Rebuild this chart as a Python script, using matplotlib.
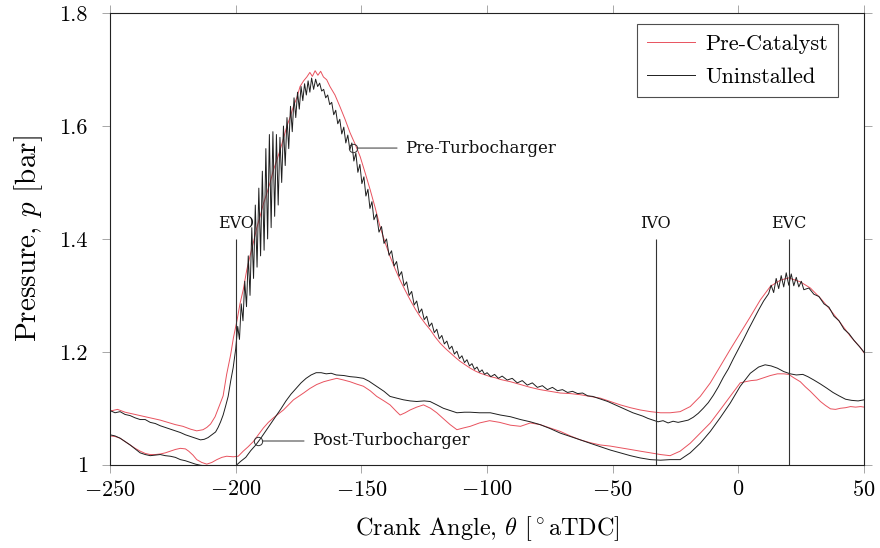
import matplotlib
matplotlib.use("Agg")
import matplotlib.pyplot as plt

plt.rcParams["font.family"] = "serif"
plt.rcParams["font.serif"] = ["cmr10", "DejaVu Serif"]
plt.rcParams["mathtext.fontset"] = "cm"
plt.rcParams["axes.formatter.use_mathtext"] = True
plt.rcParams["axes.unicode_minus"] = True

# pre-turbocharger, pre-catalyst (red)
preRedTheta = [-250, -247, -244, -241, -238, -234, -230, -227, -224, -221, -218, -215.5, -213, -211.5, -210,
               -208.2, -206.2, -205, -203.6, -202, -200.9, -199.5, -198.3, -197, -195.6, -194.3, -193, -191.6,
               -190.3, -189, -187.6, -186.3, -185, -183.6, -182.3, -181, -179.7, -178.4, -177.1, -175.7, -174.4,
               -173, -171.7, -170.5, -169.5, -168.4, -167.3, -166.2, -165.1, -163.8, -162.5, -160.5, -158.5,
               -156.5, -154.5, -152.5, -150.5, -148.5, -146.5, -144.5, -142.6, -140.6, -138.6, -136.6, -134.6,
               -132.6, -130.6, -128.6, -126.6, -124.6, -122.6, -120.6, -118.6, -116.6, -114.6, -112.6, -110.7,
               -108.7, -106.7, -104.7, -102.7, -100.7, -98.7, -96.7, -94.7, -90.7, -86.7, -82.8, -78.9, -74.9,
               -70.9, -66.9, -62.9, -59, -55, -51, -47, -43, -39.1, -35, -31, -27.2, -23.2, -19.2, -15.2, -11.2,
               -7.3, -3.3, 0.7, 4.7, 8.7, 12.7, 16.7, 20, 24.6, 28.6, 32.6, 36.6, 40.6, 44.6, 48.6, 50]
preRedP = [1.095, 1.098, 1.093, 1.090, 1.087, 1.083, 1.079, 1.075, 1.071, 1.068, 1.063, 1.060, 1.062, 1.066, 1.072,
           1.085, 1.108, 1.122, 1.160, 1.195, 1.225, 1.255, 1.285, 1.310, 1.345, 1.370, 1.393, 1.420,
           1.440, 1.462, 1.481, 1.500, 1.522, 1.540, 1.558, 1.578, 1.599, 1.615, 1.634, 1.650, 1.670,
           1.680, 1.687, 1.695, 1.688, 1.698, 1.690, 1.697, 1.687, 1.682, 1.670, 1.655, 1.634,
           1.612, 1.588, 1.568, 1.546, 1.517, 1.487, 1.455, 1.422, 1.394, 1.369, 1.347, 1.327,
           1.309, 1.292, 1.276, 1.262, 1.250, 1.239, 1.226, 1.215, 1.206, 1.198, 1.190, 1.183,
           1.177, 1.171, 1.166, 1.162, 1.159, 1.156, 1.154, 1.151, 1.147, 1.142, 1.137, 1.133, 1.130,
           1.127, 1.126, 1.124, 1.121, 1.118, 1.112, 1.106, 1.101, 1.097, 1.094, 1.092, 1.092, 1.094, 1.103, 1.121, 1.145,
           1.174, 1.204, 1.233, 1.262, 1.292, 1.316, 1.327, 1.331, 1.324, 1.313, 1.295, 1.274, 1.251, 1.227, 1.207, 1.198]

# pre-turbocharger, uninstalled (black)
preBlackTheta = [-250, -248, -246, -244, -242, -240, -238, -236, -234, -232, -230, -228, -226, -224, -222, -220,
                 -218, -216, -214, -212.5, -211, -209.5, -208, -207, -206, -205, -204, -203, -202, -201, -200,
                 -199.2, -198.5, -197.8, -197.1, -196.4, -195.7, -195, -194.3, -193.6, -192.9, -192.2, -191.5,
                 -190.8, -190.1, -189.4, -188.7, -188, -187.3, -186.6, -185.9, -185.2, -184.5, -183.8, -183.1,
                 -182.4, -181.7, -181, -180.3, -179.6, -178.9, -178.2, -177.5, -176.8, -176.1, -175.4, -174.7,
                 -174, -173.3, -172.6, -171.9, -171.2, -170.5, -169.8, -169, -168.2, -167.4, -166.6, -165.8,
                 -165, -164.2, -163.4, -162.6, -161.8, -161, -160.2, -159.4, -158.6, -157.8, -157, -156.2,
                 -155.4, -154.6, -153.8, -153, -152.2, -151.4, -150.6, -149.8, -149, -148.2, -147.4, -146.6,
                 -145.8, -145, -144, -143, -142, -141, -140, -139, -138, -137, -136, -135, -134, -133, -132,
                 -131, -130, -129, -128, -127, -126, -125, -124, -123, -122, -121, -120, -119, -118, -117, -116,
                 -115, -114, -113, -112, -111, -110, -109, -108, -107, -106, -105, -104, -103, -102, -101, -100,
                 -98.5, -97, -95.5, -94, -92, -90, -88, -86, -84, -82, -80, -78, -76, -74, -72, -70, -68, -66,
                 -64, -62, -60, -58, -56, -54, -52, -50, -48, -46, -44, -42, -40, -38, -36, -34, -32, -30, -28,
                 -26, -24, -22, -20, -18, -16, -14, -12, -10, -8, -6, -4, -2, 0, 2, 4, 6, 8, 10, 12, 13, 14, 15,
                 16, 17, 18, 19, 20, 21, 22, 23, 24, 25, 26, 28, 30, 32, 34, 36, 38, 40, 42, 44, 46, 48, 50]
preBlackP = [1.096, 1.092, 1.094, 1.089, 1.087, 1.083, 1.080, 1.080, 1.075, 1.073, 1.069, 1.066, 1.063, 1.060, 1.057, 1.053,
             1.050, 1.047, 1.044, 1.045, 1.048, 1.053, 1.058, 1.066, 1.076, 1.088, 1.104, 1.121, 1.148, 1.172, 1.205,
             1.245, 1.222, 1.285, 1.255, 1.325, 1.280, 1.370, 1.300, 1.420, 1.330, 1.460, 1.350,
             1.490, 1.370, 1.520, 1.380, 1.560, 1.400, 1.585, 1.420, 1.590, 1.440, 1.585, 1.460,
             1.580, 1.500, 1.600, 1.530, 1.615, 1.560, 1.635, 1.590, 1.650, 1.615, 1.660, 1.630,
             1.670, 1.645, 1.675, 1.655, 1.680, 1.660, 1.685, 1.665, 1.683, 1.670, 1.676, 1.662,
             1.665, 1.650, 1.655, 1.638, 1.642, 1.620, 1.628, 1.604, 1.612, 1.586, 1.598, 1.570,
             1.584, 1.558, 1.570, 1.538, 1.552, 1.518, 1.532, 1.498, 1.510, 1.476, 1.488, 1.454,
             1.466, 1.434, 1.444, 1.412, 1.422, 1.392, 1.400, 1.371, 1.379, 1.352, 1.360, 1.334, 1.342, 1.317, 1.324,
             1.300, 1.307, 1.283, 1.290, 1.269, 1.276, 1.257, 1.263, 1.245, 1.251, 1.234, 1.240, 1.223, 1.229, 1.214, 1.219,
             1.205, 1.210, 1.196, 1.201, 1.188, 1.193, 1.181, 1.186, 1.175, 1.179, 1.169, 1.173, 1.164, 1.168, 1.160, 1.163,
             1.156, 1.160, 1.153, 1.157, 1.150, 1.153, 1.145, 1.149, 1.141, 1.145, 1.137, 1.140, 1.133, 1.137, 1.131, 1.133, 1.128, 1.130,
             1.126, 1.127, 1.122, 1.121, 1.118, 1.115, 1.112, 1.108, 1.104, 1.100, 1.096, 1.092, 1.089, 1.086, 1.082, 1.079, 1.076, 1.078, 1.074,
             1.077, 1.075, 1.077, 1.079, 1.084, 1.091, 1.100, 1.110, 1.123, 1.138, 1.155, 1.170, 1.188, 1.205, 1.222, 1.240, 1.257, 1.274, 1.290, 1.303, 1.318, 1.305, 1.330,
             1.312, 1.335, 1.315, 1.340, 1.318, 1.338, 1.317, 1.332, 1.315, 1.325, 1.310, 1.313, 1.302, 1.298, 1.285, 1.279, 1.263, 1.255, 1.240, 1.232, 1.220, 1.210, 1.199]

# post-turbocharger, pre-catalyst (red)
postRedTheta = [-250, -248, -246, -244, -242, -240, -238, -236, -234, -232, -230, -228, -226, -224, -222, -220,
                -218.7, -217, -215.5, -213.5, -211.5, -209.5, -207.5, -205.5, -203.6, -201, -199, -197, -195, -193,
                -191, -189, -187, -185, -183, -181, -179, -177, -175, -173, -170.5, -167.8, -165, -162.5, -159.8,
                -157, -154.5, -152, -149.2, -146.5, -143.9, -141, -138.6, -136, -134.6, -132.6, -130.6, -128,
                -125.3, -122.5, -120, -117.5, -114.7, -112, -109.5, -106.7, -103, -99, -95, -90.7, -86.7, -82.8,
                -78.9, -74.9, -70.9, -66.9, -62.9, -59, -55, -51, -47, -43, -39.1, -35, -31, -27.2, -23.2, -19.2,
                -15.2, -11.2, -7.3, -3.3, 0.7, 2.7, 5, 7.3, 10, 12.7, 15.5, 18, 20, 22, 24.6, 26.6, 28.6, 30.6,
                32.6, 34.6, 36.6, 38.6, 40.6, 42.6, 44.6, 46.6, 48.6, 50]
postRedP = [1.051, 1.050, 1.047, 1.041, 1.035, 1.029, 1.024, 1.020, 1.018, 1.018, 1.019, 1.021, 1.024, 1.027, 1.029, 1.028,
            1.024, 1.017, 1.009, 1.004, 1.001, 1.004, 1.009, 1.013, 1.015, 1.014, 1.015, 1.024, 1.032, 1.041,
            1.053, 1.065, 1.075, 1.083, 1.090, 1.097, 1.106, 1.115, 1.121, 1.127, 1.135, 1.142, 1.147, 1.150, 1.153,
            1.150, 1.147, 1.143, 1.139, 1.131, 1.121, 1.113, 1.106, 1.094, 1.088, 1.092, 1.097, 1.102,
            1.106, 1.100, 1.092, 1.082, 1.071, 1.062, 1.065, 1.068, 1.074, 1.078, 1.075, 1.070, 1.068, 1.074,
            1.071, 1.065, 1.059, 1.051, 1.044, 1.039, 1.035, 1.033, 1.030, 1.027, 1.024, 1.021, 1.018, 1.016, 1.024, 1.038,
            1.056, 1.074, 1.097, 1.121, 1.145, 1.147, 1.149, 1.150, 1.154, 1.158, 1.161, 1.161, 1.160, 1.154, 1.147, 1.138, 1.130, 1.121,
            1.112, 1.105, 1.099, 1.098, 1.100, 1.101, 1.103, 1.102, 1.103, 1.102]

# post-turbocharger, uninstalled (black)
postBlackTheta = [-250, -248, -246, -244, -242, -240, -238, -236, -234, -232, -230, -228, -226, -224, -222, -220,
                  -218, -216, -214, -210, -206, -202, -200, -198, -196, -194, -192, -190, -188, -186, -184, -182,
                  -180, -178, -176, -174, -172, -170, -168, -166, -164, -162, -160, -157, -154.5, -152, -149.2, -147,
                  -144, -141, -138.6, -136, -133.3, -130.6, -128, -125, -122.7, -120, -117.4, -114.7, -112, -109,
                  -106.7, -103, -98.7, -94.7, -90.7, -86.7, -82.8, -78.9, -74.9, -70.9, -66.9, -62.9, -59, -55, -51,
                  -47, -43, -39.1, -35, -31, -27.2, -23.2, -19.2, -15.2, -11.2, -7.3, -3.3, 0.7, 4.7, 8, 10.6, 13,
                  15.5, 18, 20.6, 23, 25.6, 27.6, 30, 32.6, 35, 37.6, 40, 42.6, 45, 47.6, 50]
postBlackP = [1.053, 1.051, 1.047, 1.041, 1.035, 1.028, 1.021, 1.018, 1.016, 1.017, 1.018, 1.016, 1.015, 1.013, 1.009, 1.007,
              1.004, 1.001, 0.999, 0.997, 0.996, 0.996, 0.998, 1.006, 1.013, 1.025, 1.035, 1.047, 1.060, 1.073, 1.086, 1.099,
              1.113, 1.125, 1.135, 1.145, 1.153, 1.159, 1.163, 1.163, 1.161, 1.162, 1.159, 1.158, 1.156, 1.155, 1.153, 1.148,
              1.139, 1.130, 1.121, 1.118, 1.115, 1.113, 1.112, 1.113, 1.112, 1.106, 1.100, 1.096, 1.092, 1.093,
              1.093, 1.092, 1.092, 1.088, 1.085, 1.080, 1.076, 1.071, 1.064, 1.056, 1.050, 1.044, 1.038, 1.032, 1.026,
              1.021, 1.016, 1.012, 1.009, 1.008, 1.009, 1.009, 1.021, 1.038, 1.059, 1.083, 1.109, 1.139, 1.162, 1.173, 1.177, 1.175,
              1.171, 1.165, 1.161, 1.159, 1.160, 1.156, 1.150, 1.143, 1.136, 1.128, 1.122, 1.116, 1.114, 1.113, 1.115]

# valve events
eventNames = ["EVO", "IVO", "EVC"]
eventAngles = [-200, -33, 20]
eventTop = 1.4

xTicks = [-250, -200, -150, -100, -50, 0, 50]
yTicks = [1.0, 1.2, 1.4, 1.6, 1.8]
yTickLabels = ["1", "1.2", "1.4", "1.6", "1.8"]

redColor = "#e8525e"
blackColor = "#1e1e1e"

fig = plt.figure(figsize=(8.8, 5.48), dpi=100)
ax = fig.add_axes([0.125, 0.152, 0.857, 0.824])

ax.plot(preRedTheta, preRedP, color=redColor, lw=0.7, label="Pre-Catalyst")
ax.plot(preBlackTheta, preBlackP, color=blackColor, lw=0.7, label="Uninstalled")
ax.plot(postRedTheta, postRedP, color=redColor, lw=0.7)
ax.plot(postBlackTheta, postBlackP, color=blackColor, lw=0.7)

# valve timing markers
ax.vlines(eventAngles, yTicks[0], eventTop, color="#333333", lw=0.8)
for name, ang in zip(eventNames, eventAngles):
    ax.text(ang, eventTop + 0.013, name, ha="center", va="bottom", fontsize=11.5,
            family="DejaVu Serif", color="#111111")

# curve annotations
notes = [("Pre-Turbocharger", -153.3, 1.561, -132.5), ("Post-Turbocharger", -191.1, 1.042, -169.5)]
for label, th, p, tx in notes:
    ax.plot([th], [p], marker="o", ms=6, mfc="none", mec="#333333", mew=0.7)
    ax.annotate(label, xy=(th, p), xytext=(tx, p), va="center", ha="left", fontsize=12,
                family="DejaVu Serif", color="#111111",
                arrowprops=dict(arrowstyle="-", color="#333333", lw=0.7, shrinkA=4, shrinkB=3,
                                relpos=(0, 0.5)))

ax.set_xlim(-250, 50)
ax.set_ylim(1.0, 1.8)
ax.set_xticks(xTicks)
ax.set_yticks(yTicks, yTickLabels)
ax.tick_params(direction="out", length=6, width=0.6, color="#999999", labelsize=16,
               top=True, right=True)
ax.tick_params(axis="x", pad=5)
ax.tick_params(axis="y", pad=10)
for s in ax.spines.values():
    s.set_linewidth(0.8)
    s.set_color("#222222")

ax.set_xlabel(r"Crank Angle, $\theta$ [$^\circ$aTDC]", fontsize=17.5, labelpad=10)
ax.set_ylabel(r"Pressure, $p$ [bar]", fontsize=21, labelpad=10)

leg = ax.legend(loc="upper right", bbox_to_anchor=(0.9655, 0.9757), fontsize=16, frameon=True,
                fancybox=False, handlelength=2.2, borderaxespad=0, borderpad=0.45,
                labelspacing=0.6, handletextpad=0.45)
leg.get_frame().set_edgecolor("#222222")
leg.get_frame().set_linewidth(0.8)

fig.savefig("out.png", dpi=100)
